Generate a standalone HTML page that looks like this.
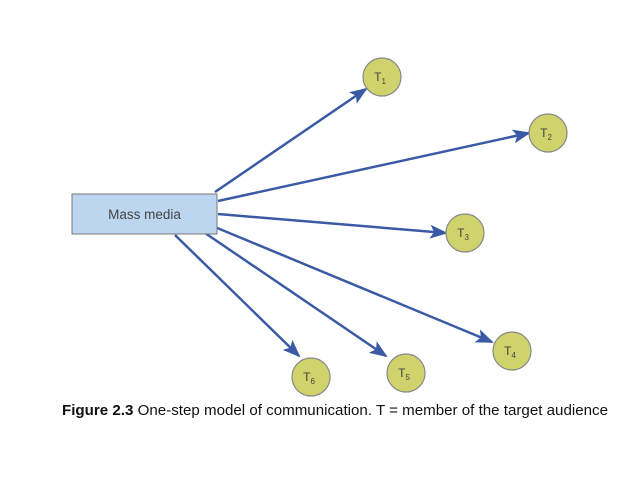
<!DOCTYPE html>
<html><head><style>
body{margin:0;background:#fff;width:638px;height:479px;overflow:hidden;font-family:"Liberation Sans",sans-serif}
</style></head><body>
<svg width="638" height="479" xmlns="http://www.w3.org/2000/svg">
<defs>
<marker id="b" markerWidth="18" markerHeight="14" refX="16" refY="7" orient="auto" markerUnits="userSpaceOnUse" viewBox="0 0 18 14"><path d="M0,0 L18,7 L0,14 L4,7z" fill="#3a5aa5"/></marker></defs>
<g stroke="#3a5aa5" stroke-width="2.5" fill="none">
<line x1="215" y1="192" x2="366" y2="89" marker-end="url(#b)"/>
<line x1="218" y1="201" x2="529" y2="133" marker-end="url(#b)"/>
<line x1="218" y1="214" x2="446" y2="233" marker-end="url(#b)"/>
<line x1="210" y1="225" x2="492" y2="342" marker-end="url(#b)"/>
<line x1="205" y1="233" x2="386" y2="356" marker-end="url(#b)"/>
<line x1="175" y1="235" x2="299" y2="356" marker-end="url(#b)"/>
</g>
<rect x="72" y="194" width="145" height="40" fill="#bcd6f0" stroke="#777" stroke-width="1"/>
<text x="144.5" y="219" text-anchor="middle" font-size="13.5" fill="#444">Mass media</text>
<g fill="#d0d26c" stroke="#888" stroke-width="1.2">
<circle cx="382" cy="77" r="19"/><circle cx="548" cy="133" r="19"/><circle cx="465" cy="233" r="19"/>
<circle cx="512" cy="351" r="19"/><circle cx="311" cy="377" r="19"/><circle cx="406" cy="373" r="19"/>
</g>
<g font-size="12" fill="#444" text-anchor="middle">
<text x="380" y="81">T<tspan font-size="8" dy="3">1</tspan></text>
<text x="546" y="137">T<tspan font-size="8" dy="3">2</tspan></text>
<text x="463" y="237">T<tspan font-size="8" dy="3">3</tspan></text>
<text x="510" y="355">T<tspan font-size="8" dy="3">4</tspan></text>
<text x="309" y="381">T<tspan font-size="8" dy="3">6</tspan></text>
<text x="404" y="377">T<tspan font-size="8" dy="3">5</tspan></text>
</g>
<text x="62" y="415" font-size="14.5" fill="#111" textLength="546" lengthAdjust="spacingAndGlyphs"><tspan font-weight="bold">Figure 2.3</tspan>  One-step model of communication. T = member of the target audience</text>
</svg>
</body></html>
